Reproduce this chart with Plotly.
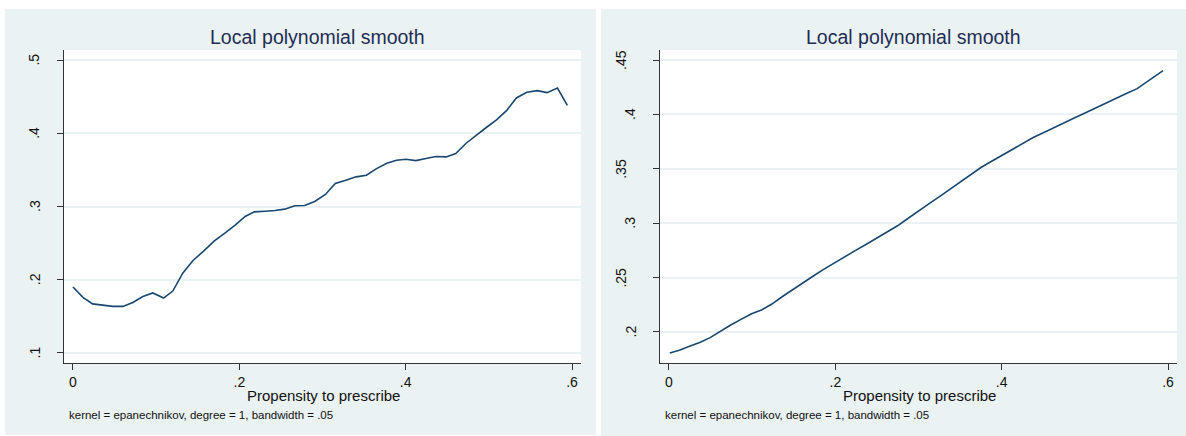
import plotly.graph_objects as go

# ---- data ----
left_x = [0.000, 0.012, 0.0235, 0.035, 0.048, 0.060, 0.072, 0.084, 0.096, 0.109, 0.120,
          0.132, 0.144, 0.157, 0.170, 0.183, 0.195, 0.207, 0.218, 0.231, 0.243, 0.2546,
          0.2666, 0.2785, 0.2906, 0.3035, 0.3154, 0.328, 0.3404, 0.3528, 0.365, 0.3773,
          0.389, 0.4003, 0.4123, 0.4244, 0.4363, 0.4487, 0.4602, 0.4727, 0.4848, 0.4973,
          0.5092, 0.5212, 0.5331, 0.5456, 0.5585, 0.5700, 0.5825, 0.5944]
left_y = [0.190, 0.176, 0.167, 0.165, 0.1636, 0.1636, 0.169, 0.177, 0.182, 0.175, 0.1845,
          0.209, 0.226, 0.239, 0.253, 0.264, 0.2745, 0.2864, 0.2927, 0.2936, 0.2945, 0.2964,
          0.301, 0.3014, 0.3068, 0.3164, 0.3314, 0.336, 0.3405, 0.3427, 0.3518, 0.359,
          0.3632, 0.3645, 0.3627, 0.3655, 0.3682, 0.3677, 0.3723, 0.3864, 0.3977, 0.4082,
          0.4182, 0.4309, 0.4482, 0.4559, 0.4582, 0.4555, 0.4618, 0.4382]

right_x = [0.001, 0.0124, 0.0247, 0.0376, 0.0495, 0.0618, 0.0742, 0.0866, 0.0994, 0.1118,
           0.1237, 0.136, 0.1484, 0.1612, 0.174, 0.1864, 0.1988, 0.2116, 0.2244, 0.2373,
           0.25, 0.2629, 0.2748, 0.2872, 0.2995, 0.3124, 0.3252, 0.3376, 0.3499, 0.3627,
           0.3751, 0.3879, 0.4003, 0.4131, 0.4255, 0.4379, 0.4507, 0.4626, 0.475, 0.4873,
           0.5002, 0.5125, 0.5249, 0.5377, 0.5505, 0.5629, 0.5711, 0.5826, 0.594]
right_y = [0.1807, 0.1832, 0.1868, 0.1905, 0.1948, 0.2009, 0.2064, 0.2116, 0.2168, 0.2205,
           0.2257, 0.2324, 0.2389, 0.245, 0.2517, 0.2578, 0.2636, 0.2695, 0.275, 0.2807,
           0.2866, 0.2921, 0.2976, 0.3043, 0.3105, 0.3178, 0.3245, 0.3313, 0.3374, 0.3444,
           0.3512, 0.357, 0.3625, 0.3683, 0.3735, 0.3787, 0.3833, 0.3879, 0.3925, 0.3967,
           0.4013, 0.4059, 0.4105, 0.4151, 0.4194, 0.4237, 0.428, 0.4347, 0.4402]

x_tickvals = [0, 0.2, 0.4, 0.6]
x_ticktext = ["0", ".2", ".4", ".6"]
left_y_tickvals = [0.1, 0.2, 0.3, 0.4, 0.5]
left_y_ticktext = [".1", ".2", ".3", ".4", ".5"]
right_y_tickvals = [0.2, 0.25, 0.3, 0.35, 0.4, 0.45]
right_y_ticktext = [".2", ".25", ".3", ".35", ".4", ".45"]

title_text = "Local polynomial smooth"
xtitle_text = "Propensity to prescribe"
note_text = "kernel = epanechnikov, degree = 1, bandwidth = .05"

# ---- styling ----
W, H = 1186, 436
BG = "#eaf2f3"
LINE = "#1a476f"
FONT = "Liberation Sans, Arial, sans-serif"
TITLE_COLOR = "#1f2d55"

def px_x(p):
    return p / W

def px_y(p):
    return 1 - p / H

left_dom = [px_x(64), px_x(581)]
right_dom = [px_x(660), px_x(1177)]
ydom = [px_y(363), px_y(50)]

fig = go.Figure()
fig.add_trace(go.Scatter(x=left_x, y=left_y, mode="lines", xaxis="x", yaxis="y",
                         line=dict(color=LINE, width=1.6), showlegend=False, hoverinfo="skip"))
fig.add_trace(go.Scatter(x=right_x, y=right_y, mode="lines", xaxis="x2", yaxis="y2",
                         line=dict(color=LINE, width=1.6), showlegend=False, hoverinfo="skip"))

xcommon = dict(range=[-0.0108, 0.6108], tickvals=x_tickvals, ticktext=x_ticktext,
               ticks="outside", ticklen=6, tickwidth=1, tickcolor="#333333",
               showline=True, linecolor="#333333", linewidth=1.2, showgrid=False,
               zeroline=False, tickfont=dict(family=FONT, size=14, color="#111111"),
               fixedrange=True)
ycommon = dict(ticks="outside", ticklen=6, tickwidth=1, tickcolor="#333333",
               showline=True, linecolor="#333333", linewidth=1.2, showgrid=True,
               gridcolor=BG, gridwidth=1.5, zeroline=False, showticklabels=False,
               fixedrange=True)

fig.update_layout(
    width=W, height=H,
    margin=dict(l=0, r=0, t=0, b=0),
    paper_bgcolor="white", plot_bgcolor="white",
    xaxis=dict(domain=left_dom, anchor="y", **xcommon),
    yaxis=dict(domain=ydom, anchor="x", range=[0.0863, 0.5137],
               tickvals=left_y_tickvals, **ycommon),
    xaxis2=dict(domain=right_dom, anchor="y2", **xcommon),
    yaxis2=dict(domain=ydom, anchor="x2", range=[0.1715, 0.4592],
                tickvals=right_y_tickvals, **ycommon),
)

shapes = []
# graph region backgrounds
shapes.append(dict(type="rect", xref="paper", yref="paper", x0=px_x(5), x1=px_x(596),
                   y0=px_y(435), y1=px_y(9), fillcolor=BG, line=dict(width=0), layer="below"))
shapes.append(dict(type="rect", xref="paper", yref="paper", x0=px_x(601), x1=1,
                   y0=px_y(436), y1=px_y(9), fillcolor=BG, line=dict(width=0), layer="below"))
# white plot regions
for xr, yr in [("x", "y"), ("x2", "y2")]:
    shapes.append(dict(type="rect", xref=xr + " domain", yref=yr + " domain", x0=0, x1=1,
                       y0=0, y1=1, fillcolor="white", line=dict(width=0), layer="below"))
fig.update_layout(shapes=shapes)

ann = []
for dom, xr, yr, tv, tt in [(left_dom, "x", "y", left_y_tickvals, left_y_ticktext),
                            (right_dom, "x2", "y2", right_y_tickvals, right_y_ticktext)]:
    cx = (dom[0] + dom[1]) / 2
    ann.append(dict(text=title_text, xref="paper", yref="paper", x=cx, y=px_y(36.7),
                    xanchor="center", yanchor="middle", xshift=-5, showarrow=False,
                    font=dict(family=FONT, size=19.5, color=TITLE_COLOR)))
    ann.append(dict(text=xtitle_text, xref="paper", yref="paper", x=cx, y=px_y(395),
                    xanchor="center", yanchor="middle", xshift=1, showarrow=False,
                    font=dict(family=FONT, size=15, color="#111111")))
    ann.append(dict(text=note_text, xref="paper", yref="paper", x=dom[0], y=px_y(415),
                    xanchor="left", yanchor="middle", xshift=3, showarrow=False,
                    font=dict(family=FONT, size=11.5, color="#111111")))
    for v, t in zip(tv, tt):
        ndig = len(t) - 1
        ann.append(dict(text=t, xref=xr + " domain", yref=yr, x=0, y=v, textangle=-90,
                        xanchor="center", yanchor="middle", xshift=-(29.5 + 9.5 * (ndig - 1)),
                        showarrow=False, font=dict(family=FONT, size=14, color="#111111")))
fig.update_layout(annotations=ann)

fig.write_html("out.html",
               config={"displayModeBar": False},
               post_script="document.body.style.margin='0';document.body.style.overflow='hidden';")
